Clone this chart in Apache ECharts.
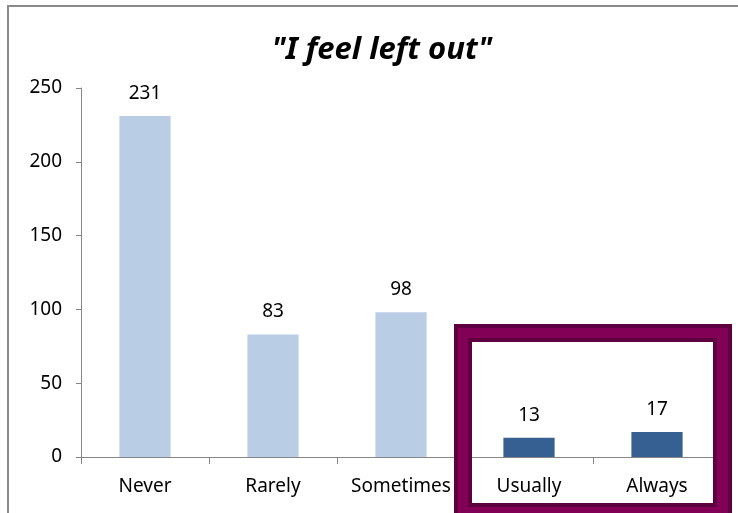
<!DOCTYPE html>
<html>
<head>
<meta charset="utf-8">
<script src="https://cdn.jsdelivr.net/npm/echarts@6/dist/echarts.min.js"></script>
<style>
* { margin: 0; padding: 0; }
html, body { background: #fff; overflow: hidden; }
</style>
</head>
<body>
<div id="main" style="width:738px;height:513px;"></div>
<script>
// data
var categories = ['Never', 'Rarely', 'Sometimes', 'Usually', 'Always'];
var counts = [231, 83, 98, 13, 17];
var highlighted = [false, false, false, true, true];
var yTicks = [0, 50, 100, 150, 200, 250];

var lightBlue = '#b9cde5';
var darkBlue = '#376092';
var font = '"Noto Sans", sans-serif';

var chart = echarts.init(document.getElementById('main'));

chart.setOption({
  animation: false,
  backgroundColor: '#fff',
  title: {
    text: '"I feel left out"',
    left: 377,
    textAlign: 'center',
    top: 30,
    textStyle: {
      fontFamily: font,
      fontSize: 31,
      fontWeight: 'bold',
      fontStyle: 'italic',
      color: '#000'
    }
  },
  grid: { left: 81, right: 17, top: 88, bottom: 56, containLabel: false },
  xAxis: {
    type: 'category',
    data: categories,
    axisLine: { lineStyle: { color: '#868686', width: 1 } },
    axisTick: { show: true, length: 7, lineStyle: { color: '#868686' } },
    axisLabel: { interval: 0, hideOverlap: false, color: '#000', fontFamily: font, fontSize: 19, margin: 20 }
  },
  yAxis: {
    type: 'value',
    min: yTicks[0],
    max: yTicks[yTicks.length - 1],
    interval: 50,
    axisLine: { show: true, lineStyle: { color: '#868686', width: 1 } },
    axisTick: { show: true, length: 5, lineStyle: { color: '#868686' } },
    splitLine: { show: false },
    axisLabel: { color: '#000', fontFamily: font, fontSize: 19, margin: 19 }
  },
  series: [{
    type: 'bar',
    barWidth: '40%',
    data: counts.map(function (v, i) {
      return { value: v, itemStyle: { color: highlighted[i] ? darkBlue : lightBlue } };
    }),
    label: {
      show: true,
      position: 'top',
      distance: 13,
      color: '#000',
      fontFamily: font,
      fontSize: 19
    }
  }],
  graphic: [
    // chart frame: only the top and left edges fall inside the picture
    { type: 'polyline', shape: { points: [[8, 520], [8, 6], [740, 6]] },
      style: { fill: 'none', stroke: '#8a8a8a', lineWidth: 2 }, z: 100 },
    // highlight box around Usually / Always
    { type: 'rect', shape: { x: 463, y: 333, width: 259.5, height: 180 },
      style: { fill: 'none', stroke: '#820055', lineWidth: 18 }, z: 100 },
    { type: 'rect', shape: { x: 456, y: 326, width: 274, height: 200 },
      style: { fill: 'none', stroke: '#5e0040', lineWidth: 4 }, z: 101 },
    { type: 'rect', shape: { x: 470, y: 340, width: 245, height: 165 },
      style: { fill: 'none', stroke: '#5e0040', lineWidth: 4 }, z: 101 }
  ]
});
</script>
</body>
</html>
